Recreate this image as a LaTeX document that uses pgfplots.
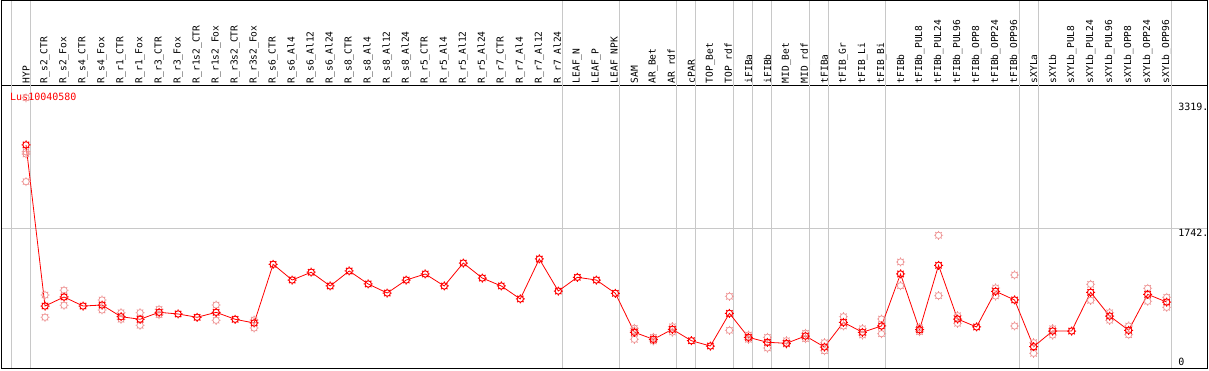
\documentclass[border=0pt]{standalone}
\usepackage{fontspec}
\setmainfont{DejaVu Sans Mono}
\usepackage{pgfplots}
\usepackage{pgfplotstable}
\pgfplotsset{compat=1.18}
\definecolor{lightred}{RGB}{238,150,150}
\definecolor{gridgray}{RGB}{200,200,200}
\pgfdeclareplotmark{gear}{%
  \pgfpathcircle{\pgfpointorigin}{3.2pt}%
  \pgfpathmoveto{\pgfpoint{3.2pt}{0pt}}\pgfpathlineto{\pgfpoint{4.5pt}{0pt}}%
  \pgfpathmoveto{\pgfpoint{-3.2pt}{0pt}}\pgfpathlineto{\pgfpoint{-4.5pt}{0pt}}%
  \pgfpathmoveto{\pgfpoint{0pt}{3.2pt}}\pgfpathlineto{\pgfpoint{0pt}{4.5pt}}%
  \pgfpathmoveto{\pgfpoint{0pt}{-3.2pt}}\pgfpathlineto{\pgfpoint{0pt}{-4.5pt}}%
  \pgfpathmoveto{\pgfpoint{2.26pt}{2.26pt}}\pgfpathlineto{\pgfpoint{3.18pt}{3.18pt}}%
  \pgfpathmoveto{\pgfpoint{-2.26pt}{2.26pt}}\pgfpathlineto{\pgfpoint{-3.18pt}{3.18pt}}%
  \pgfpathmoveto{\pgfpoint{2.26pt}{-2.26pt}}\pgfpathlineto{\pgfpoint{3.18pt}{-3.18pt}}%
  \pgfpathmoveto{\pgfpoint{-2.26pt}{-2.26pt}}\pgfpathlineto{\pgfpoint{-3.18pt}{-3.18pt}}%
  \pgfusepathqstroke}

\pgfplotstableread{
x y
0 2750
1 804
2 913
3 804
4 816
5 675
6 644
7 728
8 708
9 668
10 728
11 644
12 599
13 1308
14 1118
15 1212
16 1046
17 1227
18 1070
19 961
20 1118
21 1191
22 1046
23 1323
24 1142
25 1046
26 889
27 1372
28 985
29 1151
30 1118
31 958
32 487
33 402
34 523
35 385
36 321
37 716
38 426
39 366
40 354
41 442
42 309
43 607
44 487
45 563
46 1191
47 518
48 1296
49 647
50 551
51 982
52 877
53 313
54 502
55 502
56 970
57 683
58 511
59 945
60 852
}\maindata

\pgfplotstableread{
x y
0 3319
0 2667
0 2640
0 2306
1 937
1 668
2 994
2 813
4 877
4 756
5 723
5 644
6 723
6 571
7 764
7 699
10 816
10 632
12 635
12 539
32 535
32 402
32 505
33 426
33 382
34 554
34 490
37 921
37 511
38 454
38 402
39 426
39 297
40 385
40 345
41 475
41 409
42 361
42 264
43 675
43 563
44 530
44 454
45 647
45 470
46 1336
46 1049
47 542
47 494
48 1658
48 929
49 687
49 595
51 1022
51 925
52 1179
52 563
53 361
53 233
54 530
54 454
56 1066
56 873
57 723
57 632
58 563
58 458
59 1018
59 861
60 909
60 788
}\repdata

\begin{document}
\begin{tikzpicture}[x=1pt,y=1pt]
\useasboundingbox (0,0) rectangle (1209,370);
\begin{axis}[
  at={(1.5pt,1.5pt)}, anchor=south west,
  scale only axis, width=1206pt, height=283.5pt,
  xmin=-1.289, xmax=62.15, ymin=49.5, ymax=3473,
  clip=false,
  axis line style={black, line width=1pt},
  xtick={0,...,60},
  xticklabels={HYP,R\_s2\_CTR,R\_s2\_Fox,R\_s4\_CTR,R\_s4\_Fox,R\_r1\_CTR,R\_r1\_Fox,R\_r3\_CTR,R\_r3\_Fox,R\_r1s2\_CTR,R\_r1s2\_Fox,R\_r3s2\_CTR,R\_r3s2\_Fox,R\_s6\_CTR,R\_s6\_Al4,R\_s6\_Al12,R\_s6\_Al24,R\_s8\_CTR,R\_s8\_Al4,R\_s8\_Al12,R\_s8\_Al24,R\_r5\_CTR,R\_r5\_Al4,R\_r5\_Al12,R\_r5\_Al24,R\_r7\_CTR,R\_r7\_Al4,R\_r7\_Al12,R\_r7\_Al24,LEAF\_N,LEAF\_P,LEAF\_NPK,SAM,AR\_Bet,AR\_rdf,cPAR,TOP\_Bet,TOP\_rdf,iFIBa,iFIBb,MID\_Bet,MID\_rdf,tFIBa,tFIB\_Gr,tFIB\_Li,tFIB\_Bi,tFIBb,tFIBb\_PUL8,tFIBb\_PUL24,tFIBb\_PUL96,tFIBb\_OPP8,tFIBb\_OPP24,tFIBb\_OPP96,sXYLa,sXYLb,sXYLb\_PUL8,sXYLb\_PUL24,sXYLb\_PUL96,sXYLb\_OPP8,sXYLb\_OPP24,sXYLb\_OPP96},
  xticklabel pos=upper,
  xticklabel style={rotate=90, anchor=west, inner sep=1.5pt, font=\fontsize{9.6}{10}\selectfont},
  major tick length=0pt,
  ytick={1742}, yticklabels={},
  ymajorgrids, major grid style={gridgray, line width=0.8pt},
]
\pgfplotsinvokeforeach{-0.79,0.23,28.23,31.23,34.23,35.23,37.23,38.23,39.23,41.23,42.23,45.23,52.23,53.23,60.23}{
  \draw[gridgray, line width=0.8pt] (axis cs:#1,49.5) -- (axis cs:#1,4499);
}
\addplot[only marks, mark=gear, color=lightred, mark options={line width=0.8pt}] table {\repdata};
\addplot[red, line width=0.8pt, mark=gear, mark options={line width=1pt}] table {\maindata};
\node[anchor=west, text=red, inner sep=0pt, font=\fontsize{10}{12}\selectfont] at (axis cs:-0.842,3328) {Lus10040580};
\node[anchor=north west, inner sep=0pt, font=\fontsize{10}{12}\selectfont] at (axis cs:60.6,3252) {3319.};
\node[anchor=north west, inner sep=0pt, font=\fontsize{10}{12}\selectfont] at (axis cs:60.6,1734) {1742.};
\node[anchor=south west, inner sep=0pt, font=\fontsize{10}{12}\selectfont] at (axis cs:60.6,80) {0};
\end{axis}
\draw[black, line width=1pt] (1.5,1.5) rectangle (1207.5,369.5);
\end{tikzpicture}
\end{document}
